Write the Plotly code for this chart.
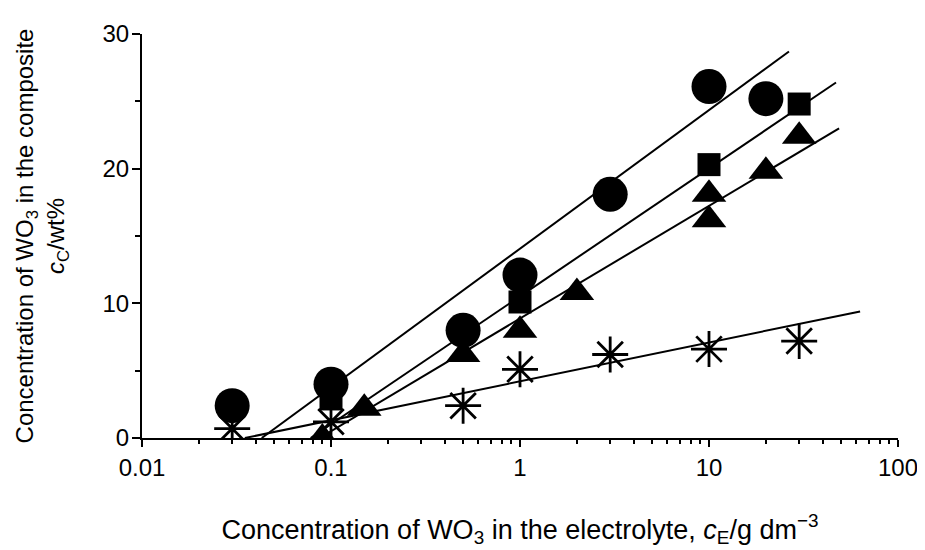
import plotly.graph_objects as go

# ---- data ----
circle_x = [0.03, 0.1, 0.5, 1, 3, 10, 20]
circle_y = [2.4, 4.0, 8.0, 12.1, 18.1, 26.1, 25.2]

square_x = [0.1, 1, 10, 30]
square_y = [2.9, 10.1, 20.3, 24.8]

triangle_x = [0.09, 0.15, 0.5, 1, 2, 10, 10, 20, 30]
triangle_y = [0.0, 2.2, 6.2, 8.0, 10.8, 18.1, 16.2, 19.8, 22.4]

asterisk_x = [0.03, 0.1, 0.5, 1, 3, 10, 30]
asterisk_y = [0.7, 1.2, 2.4, 5.1, 6.2, 6.6, 7.2]

# fitted straight lines (end points)
circle_fit_x = [0.043, 26.5]
circle_fit_y = [0.0, 28.7]
square_fit_x = [0.078, 47]
square_fit_y = [0.0, 26.4]
triangle_fit_x = [0.087, 48.8]
triangle_fit_y = [0.0, 23.0]
asterisk_fit_x = [0.035, 63]
asterisk_fit_y = [0.0, 9.4]

x_tick_vals = [0.01, 0.1, 1, 10, 100]
x_tick_text = ["0.01", "0.1", "1", "10", "100"]
x_minor_vals = [m * d for d in [0.01, 0.1, 1, 10] for m in range(2, 10)]
y_tick_vals = [0, 10, 20, 30]

FONT = "Liberation Sans, Arial, Helvetica, sans-serif"
fig = go.Figure()

for fx, fy in [(circle_fit_x, circle_fit_y), (square_fit_x, square_fit_y),
               (triangle_fit_x, triangle_fit_y), (asterisk_fit_x, asterisk_fit_y)]:
    fig.add_trace(go.Scatter(x=fx, y=fy, mode="lines",
                             line=dict(color="black", width=2), hoverinfo="skip"))

fig.add_trace(go.Scatter(x=square_x, y=square_y, mode="markers",
                         marker=dict(symbol="square", size=23, color="black")))
fig.add_trace(go.Scatter(x=triangle_x, y=triangle_y, mode="markers",
                         marker=dict(symbol="triangle-up", size=30, color="black")))
fig.add_trace(go.Scatter(x=circle_x, y=circle_y, mode="markers",
                         marker=dict(symbol="circle", size=35, color="black")))
fig.add_trace(go.Scatter(x=asterisk_x, y=asterisk_y, mode="markers",
                         marker=dict(symbol="asterisk-open", size=30, color="black",
                                     line=dict(color="black", width=2.8))))

# the page adds an 8 px body margin, so the margins are reduced by 8 px
fig.update_layout(
    width=925, height=550,
    margin=dict(l=134, r=35, t=20, b=120),
    paper_bgcolor="white", plot_bgcolor="white",
    showlegend=False,
    font=dict(family=FONT, size=24, color="black"),
)

fig.update_xaxes(
    type="log", range=[-2, 2],
    showline=True, linecolor="black", linewidth=2,
    showgrid=False, zeroline=False,
    tickvals=x_tick_vals, ticktext=x_tick_text,
    ticks="outside", ticklen=7, tickwidth=1.5, tickcolor="black",
    minor=dict(tickvals=x_minor_vals, ticks="outside", ticklen=4,
               tickwidth=1.5, tickcolor="black", showgrid=False),
    tickfont=dict(size=24, family=FONT),
    ticklabelstandoff=0,
    title=dict(text="Concentration of WO<sub>3</sub> in the electrolyte, "
                    "<i>c</i><sub>E</sub>/g dm<sup>\u22123</sup>",
               font=dict(size=27, family=FONT), standoff=40),
)

fig.update_yaxes(
    range=[0, 30],
    showline=True, linecolor="black", linewidth=2,
    showgrid=False, zeroline=False,
    tickvals=y_tick_vals,
    ticks="outside", ticklen=8, tickwidth=1.5, tickcolor="black",
    minor=dict(dtick=5, ticks="outside", ticklen=5, tickwidth=1.5,
               tickcolor="black", showgrid=False),
    tickfont=dict(size=24, family=FONT),
    ticklabelstandoff=-2,
    title=dict(text="Concentration of WO<sub>3</sub> in the composite<br>"
                    "<i>c</i><sub>C</sub>/wt%",
               font=dict(size=24, family=FONT), standoff=31),
)

fig.write_html("out.html")
